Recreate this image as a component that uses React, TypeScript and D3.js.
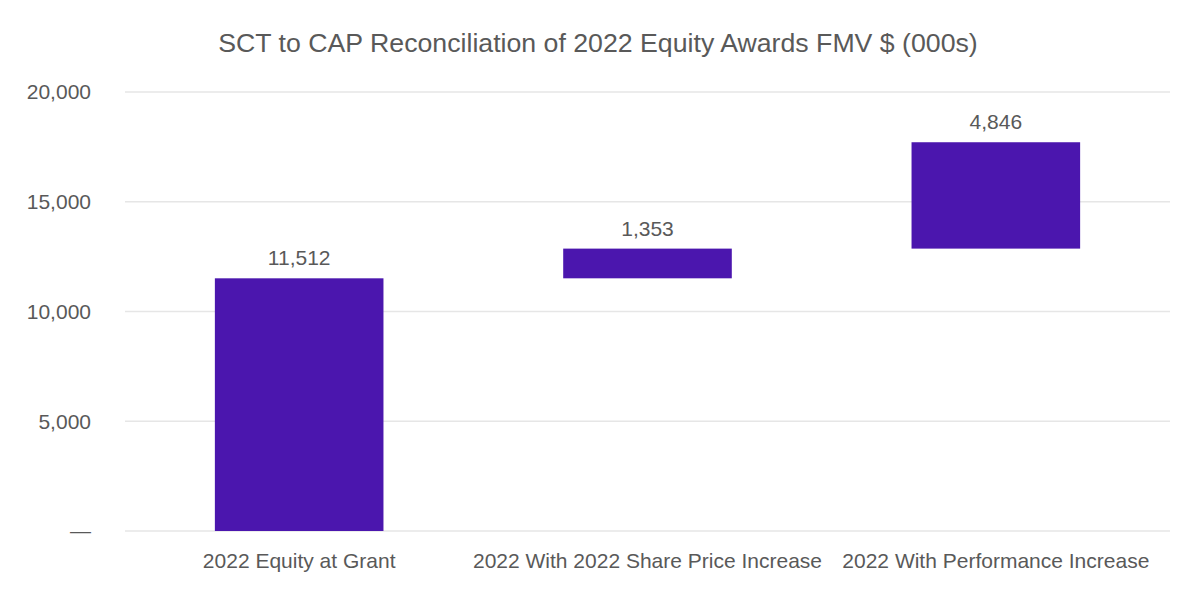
import * as d3 from 'd3';

const categories = [
  '2022 Equity at Grant',
  '2022 With 2022 Share Price Increase',
  '2022 With Performance Increase',
];
const steps = [11512, 1353, 4846];
const yTicks = [0, 5000, 10000, 15000, 20000];

const width = 1200;
const height = 600;
const margin = { top: 92, right: 30, bottom: 69, left: 125 };
const textColor = '#595959';
const barColor = '#4B16AE';
const font = 'Arial, "Liberation Sans", sans-serif';

export default function App() {
  const x = d3
    .scaleBand<string>()
    .domain(categories)
    .range([margin.left, width - margin.right])
    .paddingInner(0.516)
    .paddingOuter(0.258);

  const y = d3
    .scaleLinear()
    .domain([0, 20000])
    .range([height - margin.bottom, margin.top]);

  // running totals for the waterfall
  let total = 0;
  const bars = steps.map((v, i) => {
    const start = total;
    total += v;
    return { cat: categories[i], start, end: total, value: v };
  });

  const fmt = d3.format(',');

  return (
    <svg
      width={width}
      height={height}
      style={{ position: 'absolute', left: 0, top: 0, background: '#fff' }}
      fontFamily={font}
    >
      <text x={598} y={52} textAnchor="middle" fontSize={26.7} fill={textColor}>
        SCT to CAP Reconciliation of 2022 Equity Awards FMV $ (000s)
      </text>

      {yTicks.map((t) => (
        <g key={t}>
          <line
            x1={margin.left}
            x2={width - margin.right}
            y1={y(t)}
            y2={y(t)}
            stroke="#e6e6e6"
            strokeWidth={1.5}
          />
          <text
            x={91}
            y={y(t)}
            dy="0.35em"
            textAnchor="end"
            fontSize={21}
            fill={textColor}
          >
            {t === 0 ? '—' : fmt(t)}
          </text>
        </g>
      ))}

      {bars.map((b) => (
        <g key={b.cat}>
          <rect
            x={x(b.cat)}
            y={y(b.end)}
            width={x.bandwidth()}
            height={y(b.start) - y(b.end)}
            fill={barColor}
          />
          <text
            x={(x(b.cat) ?? 0) + x.bandwidth() / 2}
            y={y(b.end) - 13}
            textAnchor="middle"
            fontSize={21}
            fill={textColor}
          >
            {fmt(b.value)}
          </text>
          <text
            x={(x(b.cat) ?? 0) + x.bandwidth() / 2}
            y={568}
            textAnchor="middle"
            fontSize={21}
            fill={textColor}
          >
            {b.cat}
          </text>
        </g>
      ))}
    </svg>
  );
}
